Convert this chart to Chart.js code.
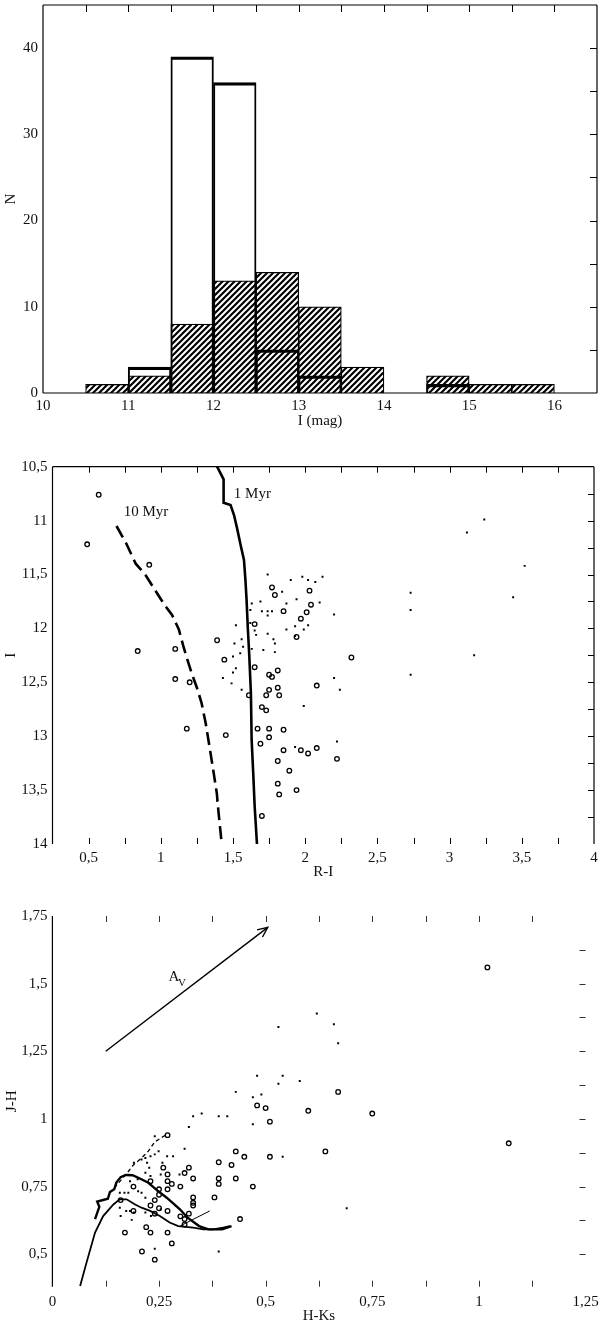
<!DOCTYPE html>
<html><head><meta charset="utf-8">
<script src="https://cdn.jsdelivr.net/npm/chart.js@4.4.1/dist/chart.umd.min.js"></script>
<style>
html,body{margin:0;padding:0;background:#fff;}
body{width:600px;height:1326px;position:relative;overflow:hidden;}
canvas{position:absolute;left:0;}
</style></head><body>
<canvas id="c1" width="600" height="440" style="top:0px"></canvas>
<canvas id="c2" width="600" height="445" style="top:440px"></canvas>
<canvas id="c3" width="600" height="441" style="top:885px"></canvas>
<script>
// ---------- Panel 1: I-magnitude histogram ----------
const magBins = [10.75, 11.25, 11.75, 12.25, 12.75, 13.25, 13.75, 14.25, 14.75, 15.25, 15.75];
const countsAll = [null, 3, 39, 36, 5, 2, null, null, 1, null, null];
const countsHatched = [1, 2, 8, 13, 14, 10, 3, null, 2, 1, 1];
const histXTicks = [10, 11, 12, 13, 14, 15, 16];
const histXLabels = ['10', '11', '12', '13', '14', '15', '16'];
const histYTicks = [0, 10, 20, 30, 40];
const histYLabels = ['0', '10', '20', '30', '40'];
const histTopMinor = [10.5, 11, 11.5, 12, 12.5, 13, 13.5, 14, 14.5, 15, 15.5, 16];
const histRightMinor = [5, 10, 15, 20, 25, 30, 35, 40];

// ---------- Panel 2: I vs R-I ----------
const cmdCircles = [
  [0.57,10.76],[0.49,11.22],[0.92,11.41],[0.84,12.21],[1.10,12.19],[1.10,12.47],[1.20,12.50],
  [1.18,12.93],[1.45,12.99],[1.39,12.11],[1.44,12.29],[1.65,11.96],[1.61,12.62],[1.65,12.36],
  [1.77,11.62],[1.79,11.69],[1.85,11.84],[1.75,12.43],[1.77,12.45],[1.81,12.39],[1.75,12.57],
  [1.73,12.62],[1.81,12.55],[1.82,12.62],[1.70,12.73],[1.73,12.76],[1.67,12.93],[1.75,12.93],
  [1.75,13.01],[1.85,12.94],[1.69,13.07],[1.85,13.13],[1.81,13.23],[1.97,13.13],[2.02,13.16],
  [2.08,13.11],[2.22,13.21],[1.89,13.32],[1.81,13.44],[1.82,13.54],[1.94,13.50],[1.70,13.74],
  [1.97,11.91],[2.01,11.85],[2.04,11.78],[2.03,11.65],[1.94,12.08],[2.32,12.27],[2.08,12.53]
];
const cmdDots = [
  [1.74,11.50],[1.90,11.55],[1.98,11.52],[2.02,11.55],[2.07,11.57],[2.12,11.52],[1.84,11.66],
  [1.87,11.77],[1.94,11.73],[2.10,11.76],[2.20,11.87],[1.63,11.77],[1.69,11.75],[1.62,11.83],
  [1.70,11.84],[1.74,11.84],[1.77,11.84],[1.74,11.88],[1.52,11.97],[1.62,11.95],[1.65,12.02],
  [1.66,12.06],[1.74,12.05],[1.78,12.10],[1.79,12.14],[1.87,12.01],[1.93,11.98],[1.99,12.01],
  [2.02,11.97],[1.93,12.07],[1.56,12.10],[1.51,12.14],[1.57,12.17],[1.63,12.19],[1.71,12.20],
  [1.79,12.22],[1.50,12.26],[1.55,12.23],[1.52,12.37],[1.43,12.46],[1.50,12.41],[1.49,12.51],
  [1.56,12.57],[2.20,12.46],[2.24,12.57],[1.99,12.72],[2.22,13.05],[1.93,13.10],[1.39,13.60],
  [2.73,11.67],[2.73,11.83],[2.73,12.43],[3.12,11.11],[3.24,10.99],[3.44,11.71],[3.52,11.42],
  [3.17,12.25]
];
const iso1Myr = [
  [1.39,10.50],[1.435,10.617],[1.435,10.834],[1.483,10.855],[1.507,10.948],[1.528,11.07],
  [1.555,11.24],[1.576,11.365],[1.586,11.55],[1.594,11.736],[1.602,11.98],[1.613,12.26],
  [1.624,12.60],[1.629,13.03],[1.64,13.34],[1.65,13.65],[1.666,14.0]
];
const iso10Myr = [
  [0.693,11.05],[0.76,11.21],[0.826,11.40],[0.892,11.50],[0.958,11.64],[1.025,11.78],
  [1.078,11.875],[1.125,12.01],[1.157,12.17],[1.184,12.29],[1.215,12.42],[1.25,12.55],
  [1.282,12.69],[1.311,12.88],[1.337,13.095],[1.361,13.296],[1.388,13.53],[1.40,13.71],[1.422,14.0]
];
const isoLabels = [
  {text: '1 Myr', x: 1.634, y: 10.75},
  {text: '10 Myr', x: 0.897, y: 10.92}
];
const cmdXTicks = [0.5, 1, 1.5, 2, 2.5, 3, 3.5, 4];
const cmdXLabels = ['0,5', '1', '1,5', '2', '2,5', '3', '3,5', '4'];
const cmdYTicks = [10.5, 11, 11.5, 12, 12.5, 13, 13.5, 14];
const cmdYLabels = ['10,5', '11', '11,5', '12', '12,5', '13', '13,5', '14'];
const cmdXMinor = [0.5,0.75,1,1.25,1.5,1.75,2,2.25,2.5,2.75,3,3.25,3.5,3.75];
const cmdYMinor = [10.75,11,11.25,11.5,11.75,12,12.25,12.5,12.75,13,13.25,13.5,13.75];

// ---------- Panel 3: J-H vs H-Ks ----------
const ccdCircles = [
  [1.02,1.56],[1.07,0.91],[0.75,1.02],[0.67,1.10],[0.60,1.03],[0.64,0.88],[0.48,1.05],[0.50,1.04],
  [0.51,0.99],[0.51,0.86],[0.45,0.86],[0.43,0.88],[0.42,0.83],[0.39,0.84],[0.39,0.78],[0.39,0.76],
  [0.43,0.78],[0.47,0.75],[0.38,0.71],[0.44,0.63],[0.32,0.82],[0.31,0.80],[0.33,0.78],[0.30,0.75],
  [0.33,0.71],[0.33,0.69],[0.33,0.68],[0.32,0.65],[0.30,0.64],[0.31,0.63],[0.31,0.61],[0.27,0.94],
  [0.26,0.82],[0.27,0.77],[0.28,0.76],[0.27,0.74],[0.25,0.74],[0.23,0.77],[0.25,0.72],[0.24,0.70],
  [0.25,0.67],[0.24,0.65],[0.27,0.66],[0.23,0.68],[0.27,0.58],[0.28,0.54],[0.23,0.58],[0.22,0.60],
  [0.21,0.51],[0.24,0.48],[0.17,0.58],[0.19,0.75],[0.19,0.66],[0.16,0.70],[0.27,0.795]
];
const ccdDots = [
  [0.62,1.39],[0.66,1.35],[0.53,1.34],[0.67,1.28],[0.48,1.16],[0.54,1.16],[0.58,1.14],[0.53,1.13],
  [0.43,1.10],[0.49,1.09],[0.47,1.08],[0.35,1.02],[0.33,1.01],[0.39,1.01],[0.41,1.01],[0.32,0.97],
  [0.47,0.98],[0.54,0.86],[0.31,0.89],[0.69,0.67],[0.39,0.51],[0.24,0.52],[0.24,0.936],[0.23,0.862],
  [0.24,0.869],[0.249,0.881],[0.218,0.856],[0.209,0.85],[0.191,0.838],[0.222,0.838],[0.227,0.82],
  [0.269,0.862],[0.258,0.838],[0.218,0.801],[0.23,0.789],[0.254,0.795],[0.20,0.777],[0.169,0.727],
  [0.218,0.709],[0.173,0.66],[0.16,0.641],[0.186,0.627],[0.218,0.654],[0.231,0.641],[0.254,0.666],
  [0.29,0.678],[0.191,0.654],[0.158,0.672],[0.182,0.77],[0.201,0.733],[0.178,0.727],[0.158,0.727],
  [0.209,0.727],[0.182,0.66],[0.283,0.862],[0.298,0.795]
];
const dwarfUpper = [
  [0.10,0.63],[0.11,0.675],[0.105,0.695],[0.13,0.705],[0.135,0.73],[0.145,0.74],[0.15,0.765],
  [0.16,0.785],[0.172,0.793],[0.188,0.792],[0.205,0.78],[0.225,0.764],[0.245,0.737],[0.268,0.709],
  [0.299,0.666],[0.317,0.635],[0.344,0.604],[0.366,0.592],[0.398,0.592],[0.42,0.604]
];
const dwarfLower = [
  [0.065,0.383],[0.08,0.469],[0.10,0.58],[0.119,0.641],[0.143,0.684],[0.158,0.703],[0.174,0.703],
  [0.194,0.684],[0.209,0.672],[0.229,0.66],[0.252,0.641],[0.275,0.617],[0.295,0.604],[0.33,0.598],
  [0.354,0.592],[0.377,0.592],[0.40,0.598],[0.416,0.604]
];
const giantBranch = [[0.145,0.745],[0.175,0.80],[0.19,0.83],[0.21,0.857],[0.225,0.881],[0.24,0.915],[0.265,0.94]];
const cttsLocus = [[0.299,0.604],[0.369,0.66]];
const avArrow = [[0.125,1.25],[0.505,1.708]];
const avLabel = {text: 'A', sub: 'V', x: 0.285, y: 1.526};
const ccdXTicks = [0, 0.25, 0.5, 0.75, 1, 1.25];
const ccdXLabels = ['0', '0,25', '0,5', '0,75', '1', '1,25'];
const ccdYTicks = [0.5, 0.75, 1, 1.25, 1.5, 1.75];
const ccdYLabels = ['0,5', '0,75', '1', '1,25', '1,5', '1,75'];
const ccdXMinor = [0.125,0.25,0.375,0.5,0.625,0.75,0.875,1,1.125];
const ccdYMinor = [0.5,0.625,0.75,0.875,1,1.125,1.25,1.375,1.5,1.625];

// ---------- shared setup ----------
Chart.defaults.font.family = '"Liberation Serif", "DejaVu Serif", serif';
Chart.defaults.font.size = 15;
Chart.defaults.color = '#111';

const pts = arr => arr.map(([x, y]) => ({x, y}));

function hatchPattern() {
  const c = document.createElement('canvas');
  c.width = 6; c.height = 6;
  const g = c.getContext('2d');
  g.fillStyle = '#fff'; g.fillRect(0, 0, 6, 6);
  g.strokeStyle = '#000'; g.lineWidth = 2.2;
  g.beginPath();
  g.moveTo(-1, 7); g.lineTo(7, -1);
  g.moveTo(-1, 1); g.lineTo(1, -1);
  g.moveTo(5, 7); g.lineTo(7, 5);
  g.stroke();
  return g.createPattern(c, 'repeat');
}

const framePlugin = {
  id: 'frameTicks',
  afterDatasetsDraw(chart, args, o) {
    const {ctx, chartArea: a} = chart;
    const x = chart.scales.x, y = chart.scales.y;
    ctx.save();
    ctx.strokeStyle = '#000';
    ctx.lineWidth = o.lineWidth || 1.2;
    ctx.beginPath();
    const s = o.sides || [];
    if (s.includes('left')) { ctx.moveTo(a.left, a.top); ctx.lineTo(a.left, a.bottom); }
    if (s.includes('right')) { ctx.moveTo(a.right, a.top); ctx.lineTo(a.right, a.bottom); }
    if (s.includes('top')) { ctx.moveTo(a.left, a.top); ctx.lineTo(a.right, a.top); }
    if (s.includes('bottom')) { ctx.moveTo(a.left, a.bottom); ctx.lineTo(a.right, a.bottom); }
    ctx.stroke();
    ctx.lineWidth = 1;
    ctx.strokeStyle = o.tickColor || '#000';
    const L = o.len || 6;
    ctx.beginPath();
    (o.top || []).forEach(v => { const p = Math.round(x.getPixelForValue(v)) + 0.5; ctx.moveTo(p, a.top); ctx.lineTo(p, a.top + L); });
    (o.bottom || []).forEach(v => { const p = Math.round(x.getPixelForValue(v)) + 0.5; ctx.moveTo(p, a.bottom); ctx.lineTo(p, a.bottom - L); });
    (o.right || []).forEach(v => { const p = Math.round(y.getPixelForValue(v)) + 0.5; ctx.moveTo(a.right, p); ctx.lineTo(a.right - L, p); });
    (o.left || []).forEach(v => { const p = Math.round(y.getPixelForValue(v)) + 0.5; ctx.moveTo(a.left, p); ctx.lineTo(a.left + L, p); });
    ctx.stroke();
    ctx.restore();
  }
};

const notePlugin = {
  id: 'notes',
  afterDatasetsDraw(chart, args, o) {
    const {ctx} = chart;
    const x = chart.scales.x, y = chart.scales.y;
    ctx.save();
    ctx.fillStyle = '#111';
    ctx.textAlign = 'center';
    ctx.textBaseline = 'middle';
    ctx.font = '15px "Liberation Serif", serif';
    (o.texts || []).forEach(t => {
      ctx.fillText(t.text, x.getPixelForValue(t.x), y.getPixelForValue(t.y));
    });
    if (o.sub) {
      const px = x.getPixelForValue(o.sub.x), py = y.getPixelForValue(o.sub.y);
      ctx.font = '15px "Liberation Serif", serif';
      ctx.fillText(o.sub.text, px, py);
      ctx.font = '11px "Liberation Serif", serif';
      ctx.fillText(o.sub.sub, px + 8, py + 6);
    }
    if (o.arrow) {
      const [p0, p1] = o.arrow;
      const x0 = x.getPixelForValue(p0[0]), y0 = y.getPixelForValue(p0[1]);
      const x1 = x.getPixelForValue(p1[0]), y1 = y.getPixelForValue(p1[1]);
      const ang = Math.atan2(y1 - y0, x1 - x0);
      const h = 11, w = 0.42;
      ctx.strokeStyle = '#000';
      ctx.lineWidth = 1.4;
      ctx.beginPath();
      ctx.moveTo(x1 - h * Math.cos(ang - w), y1 - h * Math.sin(ang - w));
      ctx.lineTo(x1, y1);
      ctx.lineTo(x1 - h * Math.cos(ang + w), y1 - h * Math.sin(ang + w));
      ctx.stroke();
    }
    ctx.restore();
  }
};

function tickSetter(values) {
  return s => { s.ticks = values.map(v => ({value: v})); };
}
function xAxis(opt) {
  return {
    type: 'linear', min: opt.min, max: opt.max, offset: false, reverse: false,
    grid: {display: false, drawTicks: false}, border: {display: false},
    ticks: {padding: opt.pad, autoSkip: false, maxRotation: 0, callback: (v, i) => opt.labels[i]},
    afterBuildTicks: tickSetter(opt.ticks),
    afterFit: s => { s.height = opt.h; s.paddingLeft = 0; s.paddingRight = 0; },
    title: {display: true, text: opt.title, color: '#111', padding: {top: 0, bottom: opt.tpad}}
  };
}
function yAxis(opt) {
  return {
    type: 'linear', min: opt.min, max: opt.max, reverse: !!opt.reverse,
    grid: {display: false, drawTicks: false}, border: {display: false},
    ticks: {padding: 5, autoSkip: false, callback: (v, i) => opt.labels[i]},
    afterBuildTicks: tickSetter(opt.ticks),
    afterFit: s => { s.width = opt.w; s.paddingTop = 0; s.paddingBottom = 0; },
    title: {display: true, text: opt.title, color: '#111', padding: {top: opt.tpad, bottom: 0}}
  };
}
const base = {responsive: false, animation: false, devicePixelRatio: 1};

// ---------- Chart 1 ----------
new Chart(document.getElementById('c1'), {
  type: 'bar',
  data: {
    datasets: [
      {label: 'all', data: magBins.map((x, i) => ({x, y: countsAll[i]})),
       backgroundColor: 'rgba(0,0,0,0)', borderColor: '#000',
       borderWidth: {top: 2.6, left: 1.3, right: 1.3, bottom: 0},
       grouped: false, barPercentage: 1, categoryPercentage: 1, order: 0},
      {label: 'hatched', data: magBins.map((x, i) => ({x, y: countsHatched[i]})),
       backgroundColor: hatchPattern(), borderColor: '#000', borderWidth: 1.2,
       grouped: false, barPercentage: 1, categoryPercentage: 1, order: 1}
    ]
  },
  options: Object.assign({}, base, {
    layout: {padding: {top: 5, right: 3, left: 0, bottom: 0}},
    plugins: {
      legend: {display: false}, tooltip: {enabled: false},
      frameTicks: {sides: ['left', 'right', 'top', 'bottom'], top: histTopMinor, right: histRightMinor, len: 7}
    },
    scales: {
      x: xAxis({min: 10, max: 16.5, ticks: histXTicks, labels: histXLabels, h: 47, pad: 4, title: 'I (mag)', tpad: 10}),
      y: yAxis({min: 0, max: 45, ticks: histYTicks, labels: histYLabels, w: 43, title: 'N', tpad: 2.5})
    }
  }),
  plugins: [framePlugin]
});

// ---------- Chart 2 ----------
new Chart(document.getElementById('c2'), {
  type: 'scatter',
  data: {
    datasets: [
      {data: pts(cmdCircles), pointStyle: 'circle', pointRadius: 2.3, borderWidth: 1.3,
       borderColor: '#000', backgroundColor: 'rgba(0,0,0,0)'},
      {data: pts(cmdDots), pointStyle: 'rect', pointRadius: 1.4, borderWidth: 0, backgroundColor: '#000'},
      {data: pts(iso1Myr), showLine: true, pointRadius: 0, borderColor: '#000', borderWidth: 2.6, fill: false},
      {data: pts(iso10Myr), showLine: true, pointRadius: 0, borderColor: '#000', borderWidth: 2.6,
       borderDash: [13, 6], fill: false}
    ]
  },
  options: Object.assign({}, base, {
    layout: {padding: {top: 26.7, right: 6, left: 0, bottom: 0}},
    plugins: {
      legend: {display: false}, tooltip: {enabled: false},
      frameTicks: {sides: ['left', 'right', 'top'], top: cmdXMinor, bottom: cmdXMinor, right: cmdYMinor, len: 6},
      notes: {texts: isoLabels}
    },
    scales: {
      x: xAxis({min: 0.25, max: 4, ticks: cmdXTicks, labels: cmdXLabels, h: 41, pad: 5, title: 'R-I', tpad: 4}),
      y: yAxis({min: 10.5, max: 14, reverse: true, ticks: cmdYTicks, labels: cmdYLabels, w: 52.5, title: 'I', tpad: 2.5})
    }
  }),
  plugins: [framePlugin, notePlugin]
});

// ---------- Chart 3 ----------
new Chart(document.getElementById('c3'), {
  type: 'scatter',
  data: {
    datasets: [
      {data: pts(ccdCircles), pointStyle: 'circle', pointRadius: 2.3, borderWidth: 1.3,
       borderColor: '#000', backgroundColor: 'rgba(0,0,0,0)'},
      {data: pts(ccdDots), pointStyle: 'rect', pointRadius: 1.4, borderWidth: 0, backgroundColor: '#000'},
      {data: pts(dwarfUpper), showLine: true, pointRadius: 0, borderColor: '#000', borderWidth: 2.4, fill: false},
      {data: pts(dwarfLower), showLine: true, pointRadius: 0, borderColor: '#000', borderWidth: 1.8, fill: false},
      {data: pts(giantBranch), showLine: true, pointRadius: 0, borderColor: '#000', borderWidth: 1.3,
       borderDash: [4, 3], fill: false},
      {data: pts(cttsLocus), showLine: true, pointRadius: 0, borderColor: '#000', borderWidth: 1, fill: false},
      {data: pts(avArrow), showLine: true, pointRadius: 0, borderColor: '#000', borderWidth: 1.4, fill: false}
    ]
  },
  options: Object.assign({}, base, {
    layout: {padding: {top: 31, right: 14.5, left: 0, bottom: 0}},
    plugins: {
      legend: {display: false}, tooltip: {enabled: false},
      frameTicks: {sides: ['left'], top: ccdXMinor, bottom: ccdXMinor, right: ccdYMinor, len: 6, tickColor: '#333'},
      notes: {sub: avLabel, arrow: avArrow}
    },
    scales: {
      x: xAxis({min: 0, max: 1.25, ticks: ccdXTicks, labels: ccdXLabels, h: 39.3, pad: 6, title: 'H-Ks', tpad: 1}),
      y: yAxis({min: 0.38, max: 1.75, ticks: ccdYTicks, labels: ccdYLabels, w: 52.4, title: 'J-H', tpad: 3})
    }
  }),
  plugins: [framePlugin, notePlugin]
});
</script>
</body></html>
